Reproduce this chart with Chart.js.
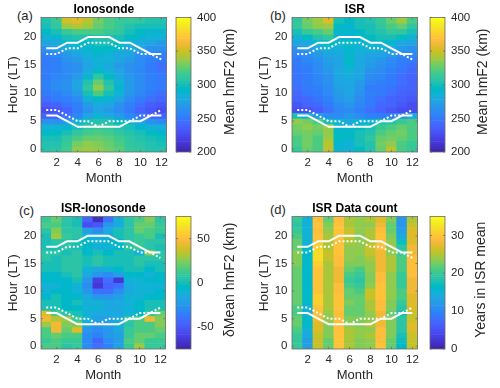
<!DOCTYPE html>
<html>
<head>
<meta charset="utf-8">
<script src="https://cdn.jsdelivr.net/npm/chart.js@4.4.0/dist/chart.umd.min.js"></script>
<style>
  html, body { margin:0; padding:0; background:#fff; }
  #fig { position:relative; width:500px; height:388px; overflow:hidden; font-family:"Liberation Sans", Arial, sans-serif; }
  #fig canvas { position:absolute; }
  .tag { position:absolute; font-size:13px; line-height:15px; color:#262626; }
</style>
</head>
<body>
<div id="fig">
  <span class="tag" style="left:17px;top:8px">(a)</span>
  <span class="tag" style="left:270px;top:8px">(b)</span>
  <span class="tag" style="left:19px;top:203px">(c)</span>
  <span class="tag" style="left:270px;top:202px">(d)</span>
</div>
<script>
// eixos
const MONTHS = [1,2,3,4,5,6,7,8,9,10,11,12];
const HOURS = [0,1,2,3,4,5,6,7,8,9,10,11,12,13,14,15,16,17,18,19,20,21,22,23];
const MONTH_TICKS = [2,4,6,8,10,12];
const HOUR_TICKS = [0,5,10,15,20];

// linhas brancas (por mes)
const SUNSET_SOLID  = [18,18,19,19,20,20,20,19,19,18,17,17];
const SUNSET_DOT    = [17,17,18,18,19,19,19,18,18,17,17,16];
const SUNRISE_SOLID = [6,6,5,4,4,4,4,4,5,5,6,6];
const SUNRISE_DOT   = [7,7,6,5,5,4,5,5,5,6,6,7];

// linhas = horas 0..23, colunas = meses 1..12
const ISO_HMF2 = [
  [305,308,318,335,340,335,330,322,315,310,305,305],
  [305,305,315,330,335,332,328,320,312,308,305,302],
  [300,300,310,320,325,325,322,318,310,305,300,298],
  [295,295,300,310,318,320,318,312,305,300,295,292],
  [285,285,290,300,310,315,312,305,300,290,285,282],
  [265,265,270,285,300,305,305,295,285,275,265,262],
  [240,240,245,258,275,285,280,270,258,248,240,238],
  [228,232,240,250,265,275,270,260,250,240,232,228],
  [235,240,248,255,270,280,275,265,255,245,235,232],
  [245,250,255,262,285,295,290,275,262,252,245,240],
  [250,255,260,270,300,320,300,285,268,258,250,245],
  [255,260,265,275,310,335,310,290,270,262,255,250],
  [255,260,265,275,305,325,305,285,270,262,255,250],
  [252,258,262,270,290,310,295,280,268,260,255,250],
  [250,255,260,265,280,295,285,275,265,258,252,248],
  [250,255,260,265,275,285,280,270,265,260,250,245],
  [250,255,265,270,280,285,285,275,270,260,255,250],
  [255,260,270,275,285,290,285,280,275,265,260,255],
  [265,270,280,285,290,295,295,290,280,275,265,265],
  [275,280,290,295,295,300,300,295,285,280,275,270],
  [285,290,300,305,300,305,305,300,295,290,285,285],
  [295,300,315,320,320,320,315,310,300,295,290,290],
  [300,310,340,345,340,325,320,315,305,300,300,300],
  [305,315,350,355,345,330,320,315,315,310,305,305]
];

const ISR_HMF2 = [
  [315,325,320,345,290,285,295,305,325,345,320,315],
  [320,330,320,345,290,285,300,305,330,335,320,315],
  [320,330,320,340,295,290,300,310,325,330,325,320],
  [325,330,325,335,295,295,300,305,320,325,330,320],
  [330,335,330,340,290,290,295,300,315,320,325,320],
  [335,330,320,300,285,280,285,290,300,305,315,320],
  [300,285,270,262,262,268,262,255,250,250,265,280],
  [228,230,235,245,258,262,255,245,238,232,228,225],
  [232,238,242,252,262,268,258,250,242,238,232,228],
  [238,242,248,255,268,272,262,252,245,240,235,232],
  [242,248,252,260,270,275,265,255,250,245,240,235],
  [245,250,255,262,272,278,268,252,252,248,242,238],
  [248,250,258,265,275,280,270,258,255,250,245,240],
  [248,252,258,265,278,282,275,262,258,252,245,240],
  [248,252,260,268,280,285,278,265,262,255,248,242],
  [250,255,262,270,278,290,280,270,265,258,250,245],
  [252,258,265,272,278,295,280,272,268,262,255,250],
  [258,262,270,278,280,290,282,278,275,270,262,258],
  [265,270,280,285,285,290,285,285,285,280,270,265],
  [275,280,290,295,290,295,290,290,290,290,280,275],
  [285,295,305,310,290,290,290,295,300,300,295,285],
  [300,315,320,325,290,290,295,300,305,315,310,300],
  [315,325,335,340,295,290,300,300,310,320,325,310],
  [310,330,340,355,300,295,300,305,315,325,340,320]
];

const DIFF_HMF2 = [
  [15,15,5,10,-30,-40,-35,-20,10,30,10,10],
  [10,15,10,10,-30,-45,-30,-20,15,20,10,10],
  [15,20,15,15,-30,-35,-25,-20,10,20,20,15],
  [15,45,20,40,-25,-30,-25,-15,10,15,15,20],
  [30,45,25,25,-15,-25,-20,-10,5,15,15,25],
  [45,35,30,10,-10,-20,-20,-15,10,15,45,25],
  [40,15,5,0,-10,-15,-15,-15,-10,-5,10,20],
  [0,0,-5,-5,-10,-10,-15,-15,-10,-5,0,0],
  [0,0,-5,0,-10,-10,-15,-15,-10,-5,0,0],
  [-5,0,-5,-5,-15,-25,-25,-20,-10,-10,-5,-5],
  [-10,-5,-5,-10,-25,-40,-40,-30,-15,-10,-10,-5],
  [-10,-10,-5,-10,-30,-65,-45,-40,-15,-10,-10,-10],
  [-5,-5,-5,0,-25,-60,-40,-65,-10,-10,-5,-5],
  [-5,-5,0,5,-15,-25,-30,-20,-5,-5,-10,-5],
  [0,0,5,5,-10,-15,-10,-5,0,0,-5,0],
  [0,0,5,5,0,5,0,0,0,5,0,0],
  [5,0,5,5,0,5,0,0,0,5,5,5],
  [5,5,0,5,-5,0,-5,0,0,-10,25,5],
  [0,0,5,0,-5,-10,-10,-5,5,10,5,0],
  [0,5,5,0,-5,-10,-5,-5,5,10,5,5],
  [0,30,10,5,-10,-15,-15,0,5,10,15,0],
  [5,25,5,5,-20,-30,-15,0,5,20,15,10],
  [15,15,5,0,-55,-50,-25,-15,5,20,20,10],
  [10,20,5,0,-45,-70,-40,-10,5,15,25,5]
];

const ISR_YEARS = [
  [20,13,26,22,30,25,23,24,30,22,16,26],
  [20,13,26,22,30,25,23,24,29,22,17,26],
  [20,14,26,23,30,25,24,25,29,23,18,26],
  [21,15,27,23,30,25,24,24,29,23,19,27],
  [22,16,27,23,29,24,23,25,28,23,19,27],
  [22,16,28,24,29,23,23,24,28,23,19,26],
  [21,15,29,24,29,22,22,24,28,22,18,26],
  [21,15,30,25,30,22,22,25,29,23,19,27],
  [22,16,31,25,30,23,22,25,29,23,20,27],
  [22,16,31,25,30,22,22,26,30,24,21,27],
  [22,16,30,25,29,22,21,26,30,24,21,28],
  [22,16,30,25,29,21,20,24,30,24,20,28],
  [22,16,30,25,28,20,19,23,29,24,20,28],
  [22,16,30,25,28,21,20,23,29,24,20,29],
  [22,16,30,25,28,22,21,24,28,25,21,29],
  [23,16,31,25,29,23,23,24,28,25,21,29],
  [23,16,32,26,29,24,23,25,28,25,21,29],
  [23,16,32,26,30,24,24,26,28,24,20,28],
  [22,16,31,25,30,24,24,26,29,24,19,28],
  [22,15,30,25,29,25,24,25,29,24,17,27],
  [21,15,30,25,30,26,23,25,30,23,14,27],
  [20,15,29,24,30,26,24,25,29,22,13,27],
  [19,15,30,23,30,25,24,24,28,22,12,26],
  [20,15,29,22,29,25,24,25,27,23,12,25]
];

// parula(64) do matlab
const PARULA = [
  [0.2422,0.1504,0.6603],[0.2504,0.1650,0.7076],[0.2578,0.1818,0.7511],[0.2647,0.1978,0.7952],
  [0.2706,0.2147,0.8364],[0.2751,0.2342,0.8710],[0.2783,0.2559,0.8991],[0.2803,0.2782,0.9221],
  [0.2813,0.3006,0.9414],[0.2810,0.3228,0.9579],[0.2795,0.3447,0.9717],[0.2760,0.3667,0.9829],
  [0.2699,0.3892,0.9906],[0.2602,0.4123,0.9952],[0.2440,0.4358,0.9988],[0.2206,0.4603,0.9973],
  [0.1963,0.4847,0.9892],[0.1834,0.5074,0.9798],[0.1786,0.5289,0.9682],[0.1764,0.5499,0.9520],
  [0.1687,0.5703,0.9359],[0.1540,0.5902,0.9218],[0.1460,0.6091,0.9079],[0.1380,0.6276,0.8973],
  [0.1248,0.6459,0.8883],[0.1113,0.6635,0.8763],[0.0952,0.6798,0.8598],[0.0689,0.6948,0.8394],
  [0.0297,0.7082,0.8163],[0.0036,0.7203,0.7917],[0.0067,0.7312,0.7660],[0.0433,0.7411,0.7394],
  [0.0964,0.7500,0.7120],[0.1408,0.7584,0.6842],[0.1717,0.7670,0.6554],[0.1938,0.7758,0.6251],
  [0.2161,0.7843,0.5923],[0.2470,0.7918,0.5567],[0.2906,0.7973,0.5188],[0.3406,0.8008,0.4789],
  [0.3909,0.8029,0.4354],[0.4456,0.8024,0.3909],[0.5044,0.7993,0.3480],[0.5616,0.7942,0.3045],
  [0.6174,0.7876,0.2612],[0.6720,0.7793,0.2227],[0.7242,0.7698,0.1910],[0.7738,0.7598,0.1646],
  [0.8203,0.7498,0.1535],[0.8634,0.7406,0.1596],[0.9035,0.7330,0.1774],[0.9393,0.7288,0.2100],
  [0.9728,0.7298,0.2394],[0.9956,0.7434,0.2371],[0.9970,0.7659,0.2199],[0.9952,0.7893,0.2028],
  [0.9892,0.8136,0.1885],[0.9786,0.8386,0.1766],[0.9676,0.8639,0.1643],[0.9610,0.8890,0.1537],
  [0.9597,0.9135,0.1423],[0.9628,0.9373,0.1265],[0.9691,0.9606,0.1064],[0.9769,0.9839,0.0805]
];

// cor discreta como no matlab (64 niveis)
function parula(t){
  t = Math.max(0, Math.min(1, t));
  const i = Math.min(PARULA.length - 1, Math.floor(t * PARULA.length));
  const c = PARULA[i].map(v => Math.round(v * 255));
  return `rgb(${c[0]},${c[1]},${c[2]})`;
}

Chart.defaults.font.family = '"Liberation Sans", Arial, sans-serif';
Chart.defaults.color = '#262626';
Chart.defaults.animation = false;

// moldura + ticks para dentro (estilo matlab)
const frame = {
  id: 'frame',
  afterDatasetsDraw(chart, args, opts){
    const { ctx, chartArea: a, scales } = chart;
    ctx.save();
    ctx.strokeStyle = '#6a6a6a';
    ctx.lineWidth = 0.8;
    ctx.strokeRect(a.left, a.top, a.right - a.left, a.bottom - a.top);
    ctx.beginPath();
    (opts.xTicks || []).forEach(v => {
      const x = scales.x.getPixelForValue(v);
      ctx.moveTo(x, a.bottom); ctx.lineTo(x, a.bottom - 2);
      ctx.moveTo(x, a.top); ctx.lineTo(x, a.top + 2);
    });
    (opts.yTicks || []).forEach(v => {
      const y = scales.y.getPixelForValue(v);
      ctx.moveTo(a.left, y); ctx.lineTo(a.left + 2, y);
      ctx.moveTo(a.right, y); ctx.lineTo(a.right - 2, y);
    });
    ctx.stroke();
    ctx.restore();
  }
};

// rotulo vertical da colorbar (de baixo p/ cima)
const cbarLabel = {
  id: 'cbarLabel',
  afterDraw(chart, args, opts){
    if(!opts.text) return;
    const { ctx, chartArea: a } = chart;
    ctx.save();
    ctx.translate(opts.x, (a.top + a.bottom) / 2 - 3);
    ctx.rotate(-Math.PI / 2);
    ctx.font = '14px "Liberation Sans", Arial, sans-serif';
    ctx.fillStyle = '#262626';
    ctx.textAlign = 'center';
    ctx.textBaseline = 'middle';
    ctx.fillText(opts.text, 0, 0);
    ctx.restore();
  }
};

const fig = document.getElementById('fig');
function makeCanvas(left, top, w, h){
  const c = document.createElement('canvas');
  c.width = w; c.height = h;
  c.style.left = left + 'px'; c.style.top = top + 'px';
  c.style.width = w + 'px'; c.style.height = h + 'px';
  fig.appendChild(c);
  return c;
}

function lineDs(vals, dash){
  return {
    type: 'line',
    data: MONTHS.map((m, i) => ({ x: m, y: vals[i] })),
    borderColor: '#ffffff', borderWidth: 2, borderDash: dash,
    pointRadius: 0, tension: 0, order: 0
  };
}

const noGrid = { display: false, drawTicks: false, tickLength: 0 };

function heatmap(p){
  const TITLE_H = 17.5, LEFT_W = 41, BOTTOM_H = 38, RIGHT_PAD = 5;
  const w = (p.right - p.left) + LEFT_W + RIGHT_PAD;
  const h = (p.bottom - p.top) + TITLE_H + BOTTOM_H;
  const canvas = makeCanvas(p.left - LEFT_W, p.top - TITLE_H, w, h);

  const cells = [], colors = [];
  HOURS.forEach((hr, i) => MONTHS.forEach((m, j) => {
    cells.push({ x: m, y: [hr - 0.5, hr + 0.5] });
    colors.push(parula((p.grid[i][j] - p.range[0]) / (p.range[1] - p.range[0])));
  }));

  new Chart(canvas, {
    type: 'bar',
    data: {
      datasets: [
        lineDs(SUNSET_SOLID, []), lineDs(SUNSET_DOT, [2,2]),
        lineDs(SUNRISE_SOLID, []), lineDs(SUNRISE_DOT, [2,2]),
        { type: 'bar', data: cells, backgroundColor: colors, borderWidth: 0,
          barPercentage: 1, categoryPercentage: 1, order: 10 }
      ]
    },
    options: {
      responsive: false,
      layout: { padding: { left: 0, right: RIGHT_PAD, top: 0, bottom: 0 } },
      plugins: {
        legend: { display: false }, tooltip: { enabled: false },
        title: { display: true, text: p.title, fullSize: false, color: '#000',
                 font: { size: 12, weight: 'bold', lineHeight: 1.2 }, padding: { top: 2, bottom: 1.1 } },
        frame: { xTicks: MONTH_TICKS, yTicks: HOUR_TICKS }
      },
      scales: {
        x: {
          type: 'linear', min: 0.5, max: 12.5, offset: false,
          grid: noGrid, border: { display: false },
          ticks: { font: { size: 11.5 }, padding: 4, maxRotation: 0, autoSkip: false },
          afterBuildTicks: s => { s.ticks = MONTH_TICKS.map(v => ({ value: v })); },
          afterFit: s => { s.height = BOTTOM_H; },
          title: { display: true, text: 'Month', font: { size: 13 }, padding: { top: 0, bottom: 3.5 } }
        },
        y: {
          type: 'linear', min: -0.5, max: 23.5, beginAtZero: false,
          grid: noGrid, border: { display: false },
          ticks: { font: { size: 11.5 }, padding: 4.5, autoSkip: false },
          afterBuildTicks: s => { s.ticks = HOUR_TICKS.map(v => ({ value: v })); },
          afterFit: s => { s.width = LEFT_W; },
          title: { display: true, text: 'Hour (LT)', font: { size: 13.5 }, padding: { top: 5, bottom: 0 } }
        }
      }
    },
    plugins: [frame]
  });
}

function colorbar(p){
  const TITLE_H = 17.5, BOTTOM_H = 38, PAD_L = 4;
  const left = p.cbLeft - PAD_L;
  const w = p.cbRight - left;
  const h = (p.bottom - p.top) + TITLE_H + BOTTOM_H;
  const canvas = makeCanvas(left, p.top - TITLE_H, w, h);
  const steps = PARULA.length, bars = [], cols = [];
  for(let k = 0; k < steps; k++){
    const lo = p.range[0] + (p.range[1] - p.range[0]) * k / steps;
    const hi = p.range[0] + (p.range[1] - p.range[0]) * (k + 1) / steps;
    bars.push({ x: 0.5, y: [lo, hi] });
    cols.push(parula((k + 0.5) / steps));
  }
  new Chart(canvas, {
    type: 'bar',
    data: { datasets: [{ data: bars, backgroundColor: cols, borderWidth: 0, barPercentage: 1, categoryPercentage: 1 }] },
    options: {
      responsive: false,
      layout: { padding: { left: PAD_L, right: 0, top: TITLE_H, bottom: BOTTOM_H } },
      plugins: {
        legend: { display: false }, tooltip: { enabled: false },
        frame: { yTicks: p.cbTicks },
        cbarLabel: { text: p.cbLabel, x: p.cbLabelX - left }
      },
      scales: {
        x: { type: 'linear', min: 0, max: 1, offset: false, display: false },
        y: {
          type: 'linear', position: 'right', min: p.range[0], max: p.range[1], beginAtZero: false,
          grid: noGrid, border: { display: false },
          ticks: { font: { size: 11.5 }, padding: 6, autoSkip: false },
          afterBuildTicks: s => { s.ticks = p.cbTicks.map(v => ({ value: v })); },
          afterFit: s => { s.width = w - PAD_L - (p.cbRight2 - p.cbLeft); }
        }
      }
    },
    plugins: [frame, cbarLabel]
  });
}

const PANELS = [
  { title: 'Ionosonde', grid: ISO_HMF2, range: [200, 400], left: 41, right: 167, top: 17.5, bottom: 152,
    cbLeft: 176, cbRight2: 191, cbRight: 250, cbTicks: [200,250,300,350,400], cbLabel: 'Mean hmF2 (km)', cbLabelX: 230 },
  { title: 'ISR', grid: ISR_HMF2, range: [200, 400], left: 292, right: 418, top: 17.5, bottom: 152,
    cbLeft: 430, cbRight2: 445, cbRight: 500, cbTicks: [200,250,300,350,400], cbLabel: 'Mean hmF2 (km)', cbLabelX: 483 },
  { title: 'ISR-Ionosonde', grid: DIFF_HMF2, range: [-75, 75], left: 41, right: 166, top: 216, bottom: 349,
    cbLeft: 176, cbRight2: 191, cbRight: 250, cbTicks: [-50,0,50], cbLabel: 'δMean hmF2 (km)', cbLabelX: 230 },
  { title: 'ISR Data count', grid: ISR_YEARS, range: [0, 35], left: 292, right: 418, top: 216, bottom: 349,
    cbLeft: 430, cbRight2: 445, cbRight: 500, cbTicks: [0,10,20,30], cbLabel: 'Years in ISR mean', cbLabelX: 481 }
];

PANELS.forEach(p => { heatmap(p); colorbar(p); });
</script>
</body>
</html>
